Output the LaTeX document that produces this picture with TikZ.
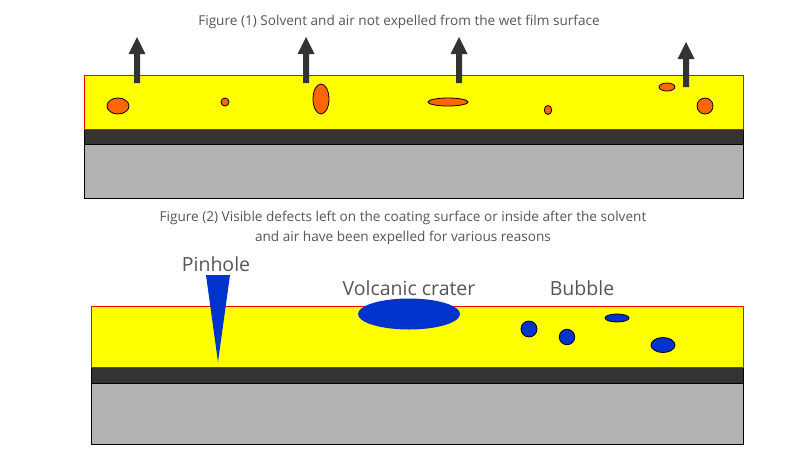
\documentclass[tikz,border=0pt]{standalone}
\usepackage{fontspec}
\setmainfont{Open Sans}
\usetikzlibrary{shapes.geometric}
\definecolor{film}{HTML}{FFFF00}
\definecolor{filmedge}{HTML}{FF0000}
\definecolor{primer}{HTML}{333333}
\definecolor{substrate}{HTML}{B2B2B2}
\definecolor{bubbleorange}{HTML}{FF6600}
\definecolor{defectblue}{HTML}{0033CC}
\definecolor{textgray}{HTML}{555555}
\tikzset{
  filmlayer/.style={fill=film, draw=filmedge, line width=0.8pt},
  primerlayer/.style={fill=primer, draw=black, line width=0.8pt},
  substratelayer/.style={fill=substrate, draw=black, line width=0.8pt},
  orangebub/.style={ellipse, fill=bubbleorange, draw=black, line width=0.8pt, inner sep=0pt},
  bluebub/.style={ellipse, fill=defectblue, draw=black, line width=0.8pt, inner sep=0pt},
  caption/.style={text=textgray, font=\fontsize{13.6}{20}\selectfont, align=center, inner sep=0pt},
  deflabel/.style={text=textgray, font=\fontsize{19.5}{23}\selectfont, inner sep=0pt},
  escape/.style={fill=primer}
}
\begin{document}
\begin{tikzpicture}[x=1pt,y=-1pt]
\useasboundingbox (0,0) rectangle (800,448);
% ---------- Figure (1) ----------
\node[caption] (cap1) at (399,22) {Figure (1) Solvent and air not expelled from the wet film surface};
\draw[substratelayer] (84,144) rectangle (743,198);
\draw[primerlayer] (84,129) rectangle (743,144);
\draw[filmlayer] (84,75) rectangle (743,129);
% escaping arrows
\foreach \ax/\tip/\bot in {137/37/83, 306/37/83, 459/37/83, 686/42/87}{
  \fill[escape] (\ax-3,\bot) -- (\ax-3,\tip+17) -- (\ax-8.5,\tip+17) -- (\ax,\tip)
     -- (\ax+8.5,\tip+17) -- (\ax+3,\tip+17) -- (\ax+3,\bot) -- cycle;
}
% trapped solvent / air
\node[orangebub, minimum width=22pt, minimum height=16pt] (o1) at (118,106) {};
\node[orangebub, minimum width=8pt, minimum height=8pt] (o2) at (225,102) {};
\node[orangebub, minimum width=16pt, minimum height=30pt] (o3) at (321,99) {};
\node[orangebub, minimum width=40pt, minimum height=8pt] (o4) at (448,102) {};
\node[orangebub, minimum width=7.5pt, minimum height=9pt] (o5) at (548,110) {};
\node[orangebub, minimum width=16pt, minimum height=8pt] (o6) at (667,87) {};
\node[orangebub, minimum width=16pt, minimum height=16pt] (o7) at (705,106) {};
% ---------- Figure (2) ----------
\node[caption] (cap2) at (403,228) {Figure (2) Visible defects left on the coating surface or inside after the solvent\\and air have been expelled for various reasons};
\draw[substratelayer] (91,383) rectangle (743,444);
\draw[primerlayer] (91,367) rectangle (743,383);
\draw[filmlayer] (91,306) rectangle (743,367);
% pinhole
\fill[defectblue] (206,275) -- (230,275) -- (218,362) -- cycle;
\node[deflabel] (lpin) at (216,264) {Pinhole};
% volcanic crater
\node[ellipse, fill=defectblue, inner sep=0pt, minimum width=102pt, minimum height=31pt] (crater) at (409,314) {};
\node[deflabel] (lcrater) at (409,288) {Volcanic crater};
% bubbles
\node[bluebub, minimum width=16pt, minimum height=16pt] (b1) at (529,329) {};
\node[bluebub, minimum width=15.5pt, minimum height=15.5pt] (b2) at (567,337) {};
\node[bluebub, minimum width=24pt, minimum height=8pt] (b3) at (617,318) {};
\node[bluebub, minimum width=24pt, minimum height=15pt] (b4) at (663,345) {};
\node[deflabel] (lbubble) at (582,288) {Bubble};
\end{tikzpicture}
\end{document}
